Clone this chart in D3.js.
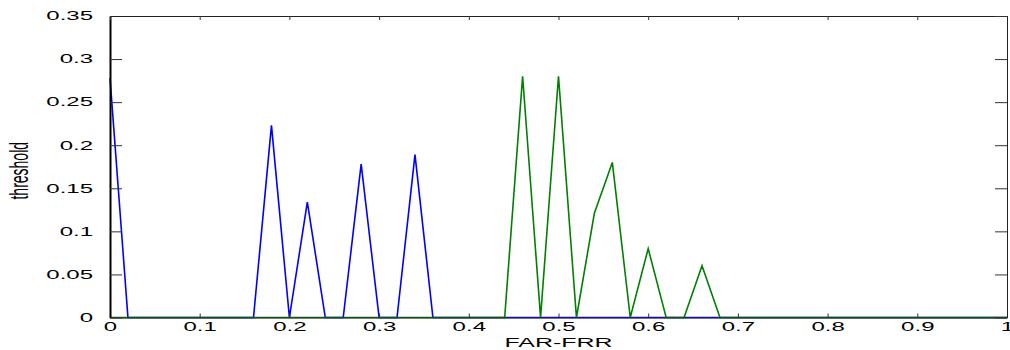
<!DOCTYPE html>
<html>
<head>
<meta charset="utf-8">
<script src="https://cdn.jsdelivr.net/npm/d3@7"></script>
<style>
  html, body { margin: 0; padding: 0; background: #fff; }
  svg text { font-family: "Liberation Sans", Arial, Helvetica, sans-serif; }
</style>
</head>
<body>
<div id="chart"></div>
<script>
// FAR-FRR sample points (step 0.02)
const farFrr = [0, 0.02, 0.04, 0.06, 0.08, 0.1, 0.12, 0.14, 0.16, 0.18,
  0.2, 0.22, 0.24, 0.26, 0.28, 0.3, 0.32, 0.34, 0.36, 0.38,
  0.4, 0.42, 0.44, 0.46, 0.48, 0.5, 0.52, 0.54, 0.56, 0.58,
  0.6, 0.62, 0.64, 0.66, 0.68, 0.7, 0.72, 0.74, 0.76, 0.78,
  0.8, 0.82, 0.84, 0.86, 0.88, 0.9, 0.92, 0.94, 0.96, 0.98, 1];

// threshold, blue series
const blueThreshold = [0.278, 0, 0, 0, 0, 0, 0, 0, 0, 0.223,
  0, 0.134, 0, 0, 0.178, 0, 0, 0.189, 0, 0,
  0, 0, 0, 0, 0, 0, 0, 0, 0, 0,
  0, 0, 0, 0, 0, 0, 0, 0, 0, 0,
  0, 0, 0, 0, 0, 0, 0, 0, 0, 0, 0];

// threshold, green series
const greenThreshold = [0, 0, 0, 0, 0, 0, 0, 0, 0, 0,
  0, 0, 0, 0, 0, 0, 0, 0, 0, 0,
  0, 0, 0, 0.280, 0, 0.280, 0, 0.121, 0.180, 0,
  0.080, 0, 0, 0.060, 0, 0, 0, 0, 0, 0,
  0, 0, 0, 0, 0, 0, 0, 0, 0, 0, 0];

const xTicks = [0, 0.1, 0.2, 0.3, 0.4, 0.5, 0.6, 0.7, 0.8, 0.9, 1];
const xTickLabels = ['0', '0.1', '0.2', '0.3', '0.4', '0.5', '0.6', '0.7', '0.8', '0.9', '1'];
const yTicks = [0, 0.05, 0.1, 0.15, 0.2, 0.25, 0.3, 0.35];
const yTickLabels = ['0', '0.05', '0.1', '0.15', '0.2', '0.25', '0.3', '0.35'];

const W = 1010, H = 350;
const margin = { top: 16, right: 3, bottom: 32.5, left: 110 };
const width = W - margin.left - margin.right;
const height = H - margin.top - margin.bottom;

const svg = d3.select('#chart')
  .append('svg')
  .attr('width', W)
  .attr('height', H)
  .append('g')
  .attr('transform', `translate(${margin.left},${margin.top})`);

const x = d3.scaleLinear().domain([0, 1]).range([0, width]);
const y = d3.scaleLinear().domain([0, 0.35]).range([height, 0]);

// lines
const line = d3.line()
  .x((d, i) => x(farFrr[i]))
  .y(d => y(d));

svg.append('path')
  .datum(blueThreshold)
  .attr('fill', 'none')
  .attr('stroke', '#0000ff')
  .attr('stroke-width', 1.6)
  .attr('stroke-linejoin', 'miter')
  .attr('d', line);

svg.append('path')
  .datum(greenThreshold)
  .attr('fill', 'none')
  .attr('stroke', '#008000')
  .attr('stroke-width', 1.6)
  .attr('d', line);

// axes (matlab style box, inward ticks, text stretched wide)
const xAxis = svg.append('g')
  .attr('transform', `translate(0,${height})`)
  .call(d3.axisBottom(x).tickValues(xTicks)
    .tickFormat((d, i) => xTickLabels[i])
    .tickSizeInner(-4).tickSizeOuter(0).tickPadding(5));
xAxis.selectAll('text')
  .attr('font-size', 12)
  .attr('fill', '#000')
  .attr('transform', 'scale(2,1)');

const yAxis = svg.append('g')
  .call(d3.axisLeft(y).tickValues(yTicks)
    .tickFormat((d, i) => yTickLabels[i])
    .tickSizeInner(-12).tickSizeOuter(0).tickPadding(8.5));
yAxis.selectAll('text')
  .attr('font-size', 12)
  .attr('fill', '#000')
  .attr('transform', 'scale(2,1)');

svg.append('g')
  .call(d3.axisTop(x).tickValues(xTicks).tickFormat('')
    .tickSizeInner(-4).tickSizeOuter(0));

svg.append('g')
  .attr('transform', `translate(${width},0)`)
  .call(d3.axisRight(y).tickValues(yTicks).tickFormat('')
    .tickSizeInner(-12).tickSizeOuter(0));

svg.selectAll('.tick line').attr('stroke', '#333');
svg.selectAll('.domain').attr('stroke', '#222');
yAxis.select('.domain').attr('stroke', '#000').attr('stroke-width', 2);

// axis labels
svg.append('text')
  .attr('text-anchor', 'middle')
  .attr('font-size', 12.5)
  .attr('transform', `translate(${width / 2},${height + 29.5}) scale(2,1)`)
  .text('FAR-FRR');

svg.append('text')
  .attr('text-anchor', 'middle')
  .attr('font-size', 14)
  .attr('transform', `translate(${28 - margin.left},${height / 2 + 4}) scale(1.8,1) rotate(-90)`)
  .text('threshold');
</script>
</body>
</html>
